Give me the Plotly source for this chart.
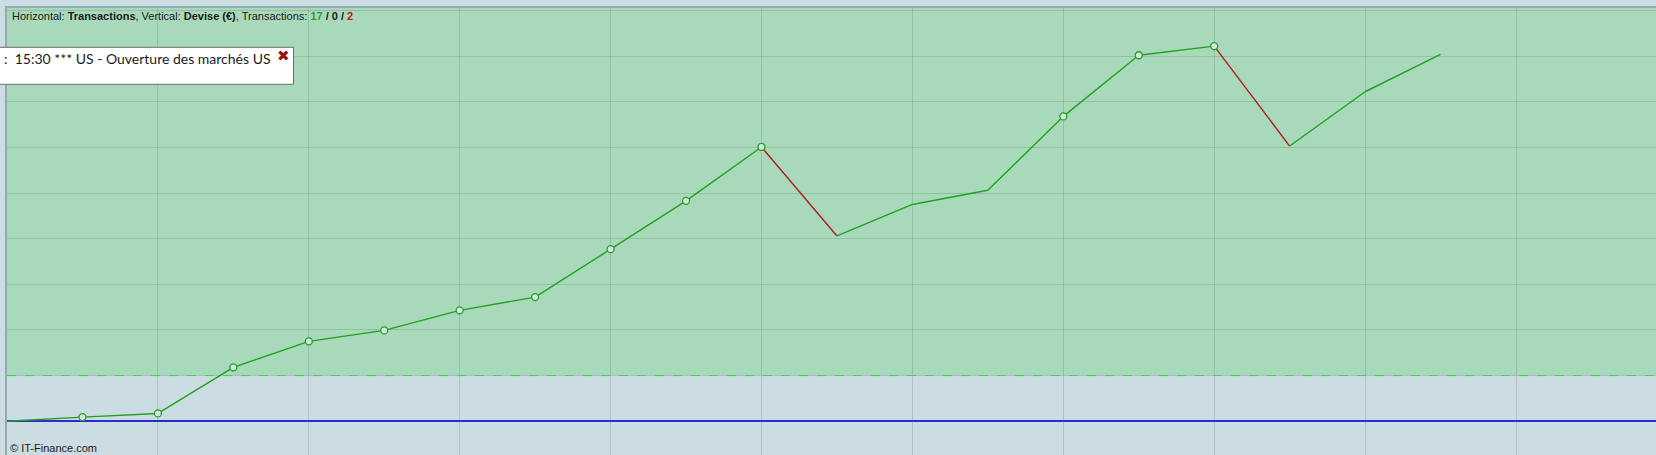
"""Courbe d'équité des transactions (IT-Finance)."""

from __future__ import annotations

import plotly.graph_objects as go

# Numéro de transaction (0 = départ)
TRADE_INDEX = list(range(20))

# Solde cumulé en devise (€) après chaque transaction
EQUITY = [0, 9, 17, 118, 175, 199, 243, 272, 377, 483, 601,
          406, 475, 506, 668, 802, 822, 603, 722, 804]

# Seuil de la zone verte
PROFIT_ZONE = 100

COUNT_WIN = 17
COUNT_FLAT = 0
COUNT_LOSS = 2

NEWS_TEXT = ":  15:30 *** US - Ouverture des marchés US"
FOOTER_TEXT = "© IT-Finance.com"

WIDTH, HEIGHT = 1656, 455
MARGIN = dict(l=7, r=0, t=8, b=0)

GREEN_LINE = "#22a022"
RED_LINE = "#b01e1e"
ZONE_GREEN = "#a9d9bb"
BG_GREY = "#cbdce3"


def _px_x(px: float) -> float:
    """Pixel horizontal -> coordonnée papier."""
    return (px - MARGIN["l"]) / (WIDTH - MARGIN["l"] - MARGIN["r"])


def _px_y(py: float) -> float:
    """Pixel vertical -> coordonnée papier."""
    return 1 - (py - MARGIN["t"]) / (HEIGHT - MARGIN["t"] - MARGIN["b"])


def _segments(xs, ys, rising: bool):
    """Segments montants (ou descendants), séparés par None."""
    sx, sy = [], []
    for i in range(1, len(ys)):
        if (ys[i] >= ys[i - 1]) == rising:
            sx += [xs[i - 1], xs[i], None]
            sy += [ys[i - 1], ys[i], None]
    return sx, sy


def _new_highs(xs, ys):
    """Points qui établissent un nouveau plus haut."""
    hx, hy = [], []
    best = ys[0]
    for x, y in zip(xs[1:], ys[1:]):
        if y > best:
            hx.append(x)
            hy.append(y)
            best = y
    return hx, hy


def build_chart() -> go.Figure:
    fig = go.Figure()

    gx, gy = _segments(TRADE_INDEX, EQUITY, True)
    rx, ry = _segments(TRADE_INDEX, EQUITY, False)
    hx, hy = _new_highs(TRADE_INDEX, EQUITY)

    fig.add_trace(go.Scatter(x=gx, y=gy, mode="lines",
                             line=dict(color=GREEN_LINE, width=1.4),
                             hoverinfo="skip"))
    fig.add_trace(go.Scatter(x=rx, y=ry, mode="lines",
                             line=dict(color=RED_LINE, width=1.4),
                             hoverinfo="skip"))
    fig.add_trace(go.Scatter(x=hx, y=hy, mode="markers",
                             marker=dict(size=7, color="#d6e6df",
                                         line=dict(color=GREEN_LINE, width=1.3)),
                             hovertemplate="Transaction %{x}<br>%{y} €<extra></extra>"))

    y_bottom = -(455 - 421.2) / 45.63 * 100
    y_top = (421.2 - 8) / 45.63 * 100
    x_right = (WIDTH - MARGIN["l"]) / 75.45

    grid = "rgba(20,45,35,0.14)"
    border = "#93aab2"

    # zone verte au-dessus du seuil
    fig.add_shape(type="rect", xref="paper", yref="y", x0=0, x1=1,
                  y0=PROFIT_ZONE, y1=y_top, fillcolor=ZONE_GREEN,
                  line=dict(width=0), layer="below")
    fig.add_shape(type="line", xref="paper", yref="y", x0=0, x1=1,
                  y0=PROFIT_ZONE, y1=PROFIT_ZONE,
                  line=dict(color="#3fd43f", width=1, dash="dash"))

    # encadré de la news
    fig.add_shape(type="rect", xref="paper", yref="paper",
                  x0=_px_x(-20), x1=_px_x(293.5), y0=_px_y(84.3), y1=_px_y(47.3),
                  fillcolor="white", line=dict(color="#6e6e6e", width=1))

    fig.add_annotation(
        xref="paper", yref="paper", x=_px_x(2), y=_px_y(58.5),
        xanchor="left", yanchor="middle", showarrow=False,
        text=NEWS_TEXT,
        font=dict(family="Lato", size=14, color="#1a1a1a"),
    )
    fig.add_annotation(
        xref="paper", yref="paper", x=_px_x(283), y=_px_y(56),
        xanchor="center", yanchor="middle", showarrow=False,
        text="✖", font=dict(family="DejaVu Sans", size=15, color="#9b0f0f"),
    )

    header = (
        "Horizontal: <b>Transactions</b>, Vertical: <b>Devise (€)</b>, "
        f"Transactions: <b><span style='color:#2f9e2f'>{COUNT_WIN}</span> / "
        f"{COUNT_FLAT} / <span style='color:#c01818'>{COUNT_LOSS}</span></b>"
    )
    fig.add_annotation(
        xref="paper", yref="paper", x=_px_x(10), y=_px_y(15.5),
        xanchor="left", yanchor="middle", showarrow=False,
        text=header, font=dict(family="Liberation Sans", size=11, color="#1a1a1a"),
    )
    fig.add_annotation(
        xref="paper", yref="paper", x=_px_x(8), y=_px_y(448),
        xanchor="left", yanchor="middle", showarrow=False,
        text=FOOTER_TEXT, font=dict(family="Liberation Sans", size=11, color="#1a1a1a"),
    )

    fig.update_layout(
        width=WIDTH, height=HEIGHT,
        margin=MARGIN,
        paper_bgcolor=BG_GREY,
        plot_bgcolor=BG_GREY,
        showlegend=False,
        xaxis=dict(range=[0, x_right], tick0=0, dtick=2, showgrid=True,
                   gridcolor=grid, gridwidth=1, zeroline=False,
                   showticklabels=False, ticks="", showline=True,
                   linecolor=border, linewidth=1.5, mirror=True),
        yaxis=dict(range=[y_bottom, y_top], tick0=0, dtick=100, showgrid=True,
                   gridcolor=grid, gridwidth=1, zeroline=True,
                   zerolinecolor="#2b2bd6", zerolinewidth=1.5,
                   showticklabels=False, ticks="", showline=True,
                   linecolor=border, linewidth=1.5, mirror=False),
    )
    return fig


fig = build_chart()
# pas de marge de page autour du graphique
fig.write_html("out.html", config={"displayModeBar": False},
               post_script="document.body.style.margin='0';"
               "document.body.style.overflow='hidden';")
